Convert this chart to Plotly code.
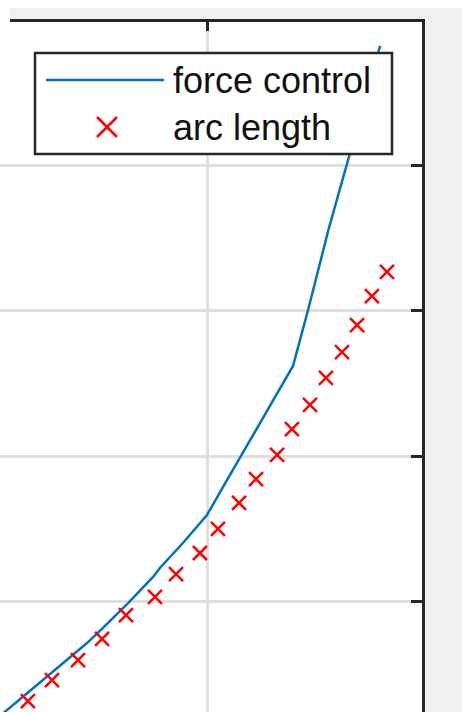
import plotly.graph_objects as go

# ---- data ----
force_x = [0.037, 0.093, 0.191, 0.279, 0.363, 0.442, 0.516, 0.633, 0.749, 0.781,
           0.888, 1.000, 1.088, 1.316, 1.400, 1.470, 1.567, 1.660, 1.805]
force_y = [2.07, 2.76, 4.00, 5.03, 6.07, 7.10, 8.14, 9.86, 11.66, 12.28,
           14.00, 15.93, 18.21, 24.00, 26.21, 30.07, 35.72, 40.62, 48.28]

arc_x = [0.167, 0.279, 0.400, 0.512, 0.623, 0.758, 0.856, 0.967, 1.051, 1.149,
         1.228, 1.326, 1.395, 1.479, 1.553, 1.628, 1.698, 1.767, 1.837]
arc_y = [3.10, 4.55, 5.93, 7.38, 9.03, 10.28, 11.86, 13.31, 14.97, 16.76,
         18.41, 20.07, 21.86, 23.52, 25.38, 27.17, 29.03, 31.03, 32.69]

series_names = ["force control", "arc length"]

x_range = [0.0372, 2.0]
y_range = [2.345, 49.93]

# ---- layout geometry ----
W, H = 462, 712
L, R, T, B = 0, 40, 22, 0
PW, PH = W - L - R, H - T - B

def px(xp):
    return (xp - L) / PW

def py(yp):
    return (H - B - yp) / PH

BLUE = "#0072BD"
RED = "#FF0000"
DARK = "#262626"
FONT = "Liberation Sans, Arial, Helvetica, sans-serif"

fig = go.Figure()
fig.add_trace(go.Scatter(x=force_x, y=force_y, mode="lines", name=series_names[0],
                         line=dict(color=BLUE, width=2.5), showlegend=False))
fig.add_trace(go.Scatter(x=arc_x, y=arc_y, mode="markers", name=series_names[1],
                         marker=dict(symbol="x-thin", size=14, color=RED,
                                     line=dict(color=RED, width=2.5)),
                         showlegend=False))

shapes = []
# legend box
shapes.append(dict(type="rect", xref="paper", yref="paper",
                   x0=px(35), x1=px(392), y0=py(154), y1=py(53),
                   line=dict(color=DARK, width=2.5), fillcolor="white", layer="above"))
# legend line sample
shapes.append(dict(type="line", xref="paper", yref="paper",
                   x0=px(46), x1=px(164), y0=py(80), y1=py(80),
                   line=dict(color=BLUE, width=2.5), layer="above"))
# legend x marker
mx, my, mr = 107, 127, 10
shapes.append(dict(type="line", xref="paper", yref="paper",
                   x0=px(mx - mr), x1=px(mx + mr), y0=py(my - mr), y1=py(my + mr),
                   line=dict(color=RED, width=2.5), layer="above"))
shapes.append(dict(type="line", xref="paper", yref="paper",
                   x0=px(mx - mr), x1=px(mx + mr), y0=py(my + mr), y1=py(my - mr),
                   line=dict(color=RED, width=2.5), layer="above"))
# white crop strips at the top-left
shapes.append(dict(type="rect", xref="paper", yref="paper",
                   x0=px(0), x1=px(W), y0=py(8), y1=py(0),
                   line=dict(width=0), fillcolor="white", layer="above"))
shapes.append(dict(type="rect", xref="paper", yref="paper",
                   x0=px(0), x1=px(10), y0=py(22.5), y1=py(7.5),
                   line=dict(width=0), fillcolor="white", layer="above"))

annotations = []
for name, yc in zip(series_names, [80, 127]):
    annotations.append(dict(text=name, xref="paper", yref="paper",
                            x=px(171), y=py(yc), xanchor="left", yanchor="middle",
                            showarrow=False, font=dict(family=FONT, size=36, color="#111111")))

fig.update_layout(
    width=W, height=H, autosize=False,
    margin=dict(l=L, r=R, t=T, b=B, pad=0),
    paper_bgcolor="#f0f0f0", plot_bgcolor="white",
    showlegend=False,
    shapes=shapes, annotations=annotations,
    xaxis=dict(range=x_range, side="top", showline=True, linecolor=DARK, linewidth=2.5,
               mirror=False, ticks="inside", ticklen=9, tickwidth=3, tickcolor=DARK,
               tick0=0, dtick=1, showticklabels=False, showgrid=True,
               gridcolor="#dfdfdf", gridwidth=3, zeroline=False),
    yaxis=dict(range=y_range, side="right", showline=True, linecolor=DARK, linewidth=2.5,
               mirror=False, ticks="inside", ticklen=11, tickwidth=3, tickcolor=DARK,
               tick0=0, dtick=10, showticklabels=False, showgrid=True,
               gridcolor="#dfdfdf", gridwidth=3, zeroline=False),
)

fig.write_html("out.html")
